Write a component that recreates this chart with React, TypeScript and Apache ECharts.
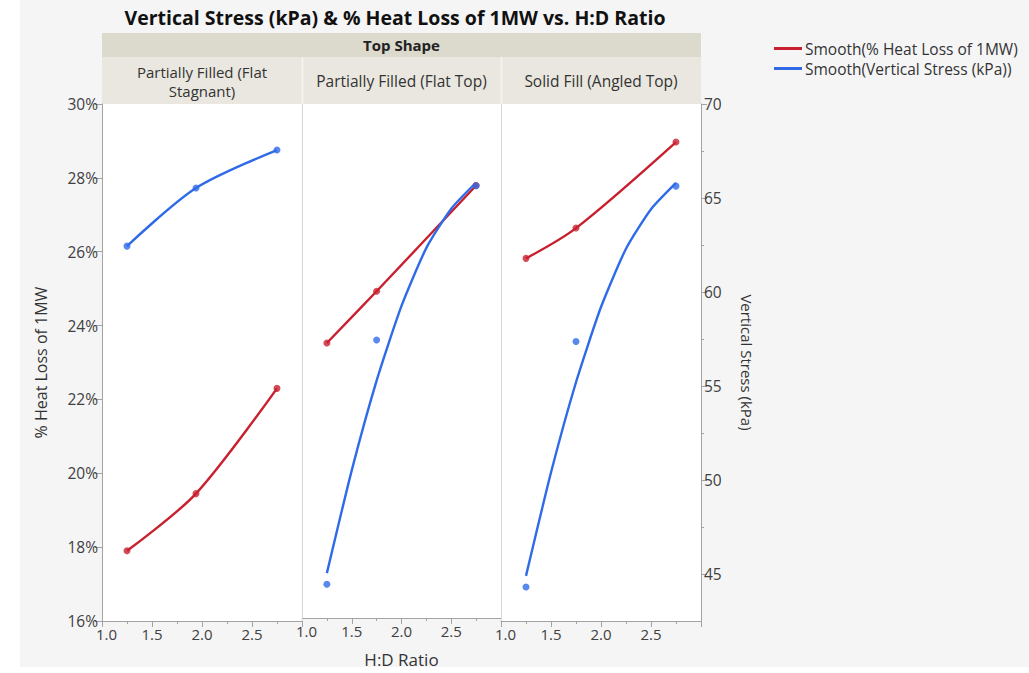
import React, { useEffect, useRef } from "react";
import * as echarts from "echarts";

// Measured points per Top Shape panel: H:D ratio, % heat loss, vertical stress (kPa)
const panelNames = ["Partially Filled (Flat\nStagnant)", "Partially Filled (Flat Top)", "Solid Fill (Angled Top)"];
const hdRatio = [
  [1.25, 1.94, 2.75],
  [1.25, 1.75, 2.75],
  [1.25, 1.75, 2.75],
];
const heatLoss = [
  [17.9, 19.45, 22.3],
  [23.49, 24.9, 27.78],
  [25.82, 26.64, 28.97],
];
const verticalStress = [
  [62.44, 65.53, 67.55],
  [44.31, 57.37, 65.63],
  [44.31, 57.37, 65.63],
];

// Smoother curve for vertical stress in the two right panels
const stressSmoothX = [1.25, 1.5, 1.75, 2.0, 2.25, 2.5, 2.75];
const stressSmoothY = [44.9, 50.4, 55.2, 59.2, 62.3, 64.4, 65.8];

const xTicks = [1.0, 1.5, 2.0, 2.5, 3.0];
const pctTicks = [16, 18, 20, 22, 24, 26, 28, 30];
const stressTicks = [45, 50, 55, 60, 65, 70];
const stressMinorTicks = [47.5, 52.5, 57.5, 62.5, 67.5];

const RED = "#c8202f";
const BLUE = "#2f6be8";
const HEAT_NAME = "Smooth(% Heat Loss of 1MW)";
const STRESS_NAME = "Smooth(Vertical Stress (kPa))";
const FONT = "'Open Sans', 'Noto Sans', sans-serif";

const PLOT_TOP = 104;
const PLOT_BOTTOM = 621;
const gridLefts = [102, 302, 501];
const gridWidths = [200, 199, 200];

export default function App() {
  const ref = useRef<HTMLDivElement>(null);

  useEffect(() => {
    document.body.style.margin = "0";
    if (!ref.current) return;
    const chart = echarts.init(ref.current, null, { renderer: "svg" });

    const axisColor = "#a3a3a3";
    const labelColor = "#404040";

    const grids = gridLefts.map((left, i) => ({
      left,
      width: gridWidths[i],
      top: PLOT_TOP,
      height: PLOT_BOTTOM - PLOT_TOP,
      show: true,
      backgroundColor: "#ffffff",
      borderWidth: 0,
    }));

    const xAxes = grids.map((_, i) => ({
      type: "value",
      gridIndex: i,
      min: xTicks[0],
      max: xTicks[xTicks.length - 1],
      interval: 0.5,
      name: i === 1 ? "H:D Ratio" : "",
      nameLocation: "middle",
      nameGap: 33,
      nameTextStyle: { fontFamily: FONT, fontSize: 17, color: "#333" },
      axisLine: { show: true, lineStyle: { color: axisColor } },
      axisTick: { show: true, length: 6, lineStyle: { color: axisColor } },
      minorTick: { show: true, splitNumber: 2, length: 3, lineStyle: { color: axisColor } },
      splitLine: { show: false },
      axisLabel: {
        showMaxLabel: false,
        margin: 5,
        fontFamily: FONT,
        fontSize: 15,
        color: labelColor,
        // the first label sits a little right of its tick, clear of the y labels
        formatter: (v: number) => (v === xTicks[0] ? `{first|${v.toFixed(1)}}` : v.toFixed(1)),
        rich: {
          first: { fontFamily: FONT, fontSize: 15, color: labelColor, padding: [0, 0, 0, 9] },
        },
      },
    }));

    const pctAxis = (grid: number, visible: boolean) => ({
      type: "value",
      gridIndex: grid,
      show: visible,
      position: "left",
      min: pctTicks[0],
      max: pctTicks[pctTicks.length - 1],
      interval: 2,
      name: visible ? "% Heat Loss of 1MW" : "",
      nameLocation: "middle",
      nameGap: 53,
      nameTextStyle: { fontFamily: FONT, fontSize: 16, color: "#333" },
      axisLine: { show: true, lineStyle: { color: axisColor } },
      axisTick: { show: true, length: 7, lineStyle: { color: axisColor } },
      splitLine: { show: false },
      axisLabel: {
        margin: 4,
        fontFamily: FONT,
        fontSize: 15.5,
        color: labelColor,
        formatter: (v: number) => `${v}%`,
      },
    });

    const stressAxis = (grid: number, visible: boolean) => ({
      type: "value",
      gridIndex: grid,
      show: visible,
      position: "right",
      min: 42.5,
      max: 70,
      name: visible ? "Vertical Stress (kPa)" : "",
      nameLocation: "middle",
      nameRotate: -90,
      nameGap: 38,
      nameTextStyle: { fontFamily: FONT, fontSize: 15, color: "#333" },
      axisLine: { show: true, lineStyle: { color: axisColor } },
      axisTick: { show: true, length: 6, customValues: stressTicks, lineStyle: { color: axisColor } },
      splitLine: { show: false },
      axisLabel: {
        margin: 3,
        customValues: stressTicks,
        fontFamily: FONT,
        fontSize: 15.5,
        color: labelColor,
      },
    });

    const yAxes: any[] = [
      pctAxis(0, true),
      stressAxis(0, false),
      pctAxis(1, false),
      stressAxis(1, false),
      pctAxis(2, false),
      stressAxis(2, true),
      {
        type: "value",
        gridIndex: 2,
        position: "right",
        min: 42.5,
        max: 70,
        axisLine: { show: false },
        axisTick: { show: true, length: 3, customValues: stressMinorTicks, lineStyle: { color: axisColor } },
        axisLabel: { show: false },
        splitLine: { show: false },
      },
    ];

    const zip = (xs: number[], ys: number[]) => xs.map((x, k) => [x, ys[k]]);

    const series: any[] = [];
    for (let p = 0; p < 3; p++) {
      const heatPts = zip(hdRatio[p], heatLoss[p]);
      const stressPts = zip(hdRatio[p], verticalStress[p]);
      const stressCurve = p === 0 ? stressPts : zip(stressSmoothX, stressSmoothY);
      series.push(
        {
          name: HEAT_NAME,
          type: "line",
          xAxisIndex: p,
          yAxisIndex: p * 2,
          data: heatPts,
          smooth: 0.3,
          showSymbol: false,
          color: RED,
          lineStyle: { color: RED, width: 2.4 },
          z: 3,
        },
        {
          name: HEAT_NAME,
          type: "scatter",
          xAxisIndex: p,
          yAxisIndex: p * 2,
          data: heatPts,
          symbolSize: 7,
          itemStyle: { color: RED },
          z: 4,
        },
        {
          name: STRESS_NAME,
          type: "line",
          xAxisIndex: p,
          yAxisIndex: p * 2 + 1,
          data: stressCurve,
          smooth: p === 0 ? 0.3 : 0.2,
          showSymbol: false,
          color: BLUE,
          lineStyle: { color: BLUE, width: 2.4 },
          z: 3,
        },
        {
          name: STRESS_NAME,
          type: "scatter",
          xAxisIndex: p,
          yAxisIndex: p * 2 + 1,
          data: stressPts,
          symbolSize: 7,
          itemStyle: { color: BLUE },
          z: 4,
        }
      );
    }

    const stripLeft = gridLefts[0];
    const stripRight = gridLefts[2] + gridWidths[2];
    const graphic: any[] = [
      {
        type: "rect",
        shape: { x: stripLeft, y: 33, width: stripRight - stripLeft, height: 24 },
        style: { fill: "#dcd9cd" },
      },
      {
        type: "rect",
        shape: { x: stripLeft, y: 57, width: stripRight - stripLeft, height: PLOT_TOP - 57 },
        style: { fill: "#e9e7df" },
      },
      {
        type: "text",
        x: (stripLeft + stripRight) / 2,
        y: 45,
        style: {
          text: "Top Shape",
          font: `bold 15px ${FONT}`,
          fill: "#222",
          align: "center",
          verticalAlign: "middle",
        },
      },
      {
        type: "text",
        x: 395,
        y: 17,
        style: {
          text: "Vertical Stress (kPa) & % Heat Loss of 1MW vs. H:D Ratio",
          font: `bold 19.5px ${FONT}`,
          fill: "#111",
          align: "center",
          verticalAlign: "middle",
        },
      },
      // panel separators through the plot area and the strip
      ...[gridLefts[1], gridLefts[2]].map((x) => ({
        type: "line",
        shape: { x1: x + 0.5, y1: PLOT_TOP, x2: x + 0.5, y2: PLOT_BOTTOM },
        style: { stroke: "#d6d6d6", lineWidth: 1 },
        z: 1,
      })),
      ...[gridLefts[1], gridLefts[2]].map((x) => ({
        type: "line",
        shape: { x1: x + 0.5, y1: 57, x2: x + 0.5, y2: PLOT_TOP },
        style: { stroke: "#f6f5f1", lineWidth: 1.5 },
      })),
      // strip labels; the first one wraps onto two lines
      {
        type: "text",
        x: gridLefts[0] + gridWidths[0] / 2,
        y: 72,
        style: { text: "Partially Filled (Flat", font: `15px ${FONT}`, fill: "#333", align: "center", verticalAlign: "middle" },
      },
      {
        type: "text",
        x: gridLefts[0] + gridWidths[0] / 2,
        y: 91,
        style: { text: "Stagnant)", font: `15px ${FONT}`, fill: "#333", align: "center", verticalAlign: "middle" },
      },
      ...panelNames.slice(1).map((name, k) => ({
        type: "text",
        x: gridLefts[k + 1] + gridWidths[k + 1] / 2,
        y: 81,
        style: { text: name, font: `15.5px ${FONT}`, fill: "#333", align: "center", verticalAlign: "middle" },
      })),
    ];

    chart.setOption({
      animation: false,
      backgroundColor: "transparent",
      grid: grids,
      xAxis: xAxes,
      yAxis: yAxes,
      series,
      graphic,
      legend: {
        orient: "vertical",
        left: 769,
        top: 35,
        itemWidth: 28,
        itemHeight: 3,
        itemGap: 3,
        icon: "rect",
        data: [
          { name: HEAT_NAME, itemStyle: { color: RED } },
          { name: STRESS_NAME, itemStyle: { color: BLUE } },
        ],
        textStyle: { fontFamily: FONT, fontSize: 15.5, lineHeight: 17, color: "#333", padding: [0, 0, 0, -2] },
        selectedMode: false,
      },
    });

    return () => chart.dispose();
  }, []);

  return (
    <div style={{ position: "relative", width: 1029, height: 673, background: "#ffffff" }}>
      <div style={{ position: "absolute", left: 20, top: 0, width: 1009, height: 667, background: "#f5f5f6" }} />
      <div ref={ref} style={{ position: "absolute", left: 0, top: 0, width: 1029, height: 673 }} />
    </div>
  );
}
